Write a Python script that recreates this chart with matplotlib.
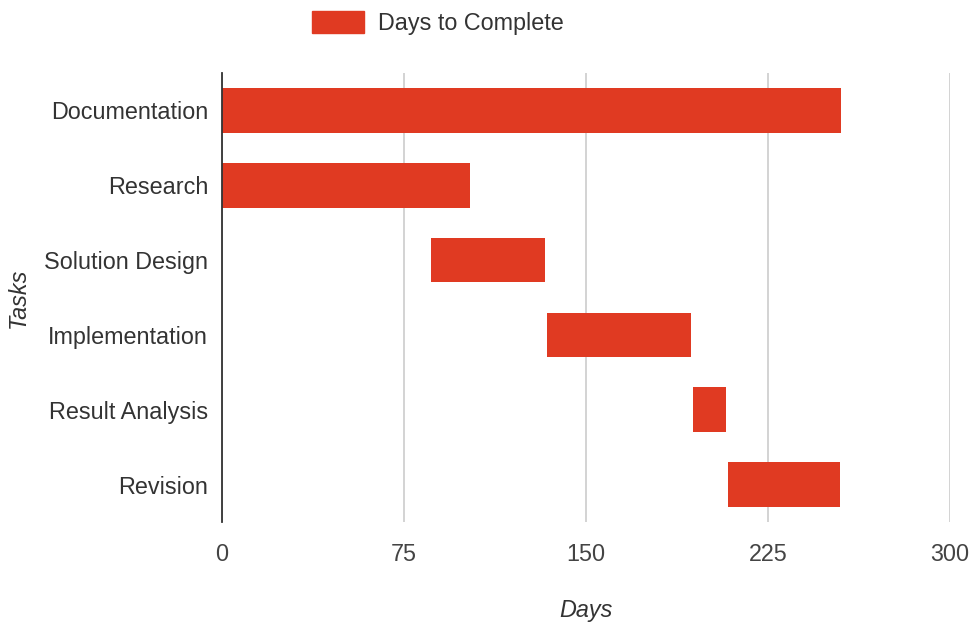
import matplotlib
matplotlib.use("Agg")
import matplotlib.pyplot as plt
from matplotlib.patches import Patch

tasks = ["Documentation", "Research", "Solution Design", "Implementation", "Result Analysis", "Revision"]
start_days = [0, 0, 86.2, 134.0, 194.0, 208.7]
end_days = [255, 102.4, 133.3, 193.2, 207.8, 254.8]
x_ticks = [0, 75, 150, 225, 300]
series_name = "Days to Complete"

plt.rcParams['font.family'] = ['Liberation Sans', 'DejaVu Sans']
bar_color = "#E03A22"
text_color = "#333333"
fs = 16.8

fig = plt.figure(figsize=(9.71, 6.26), dpi=100)
ax = fig.add_axes([222/971, 1-522/626, (950-222)/971, (522-73)/626])

y = list(range(len(tasks)))
widths = [e - s for s, e in zip(start_days, end_days)]
ax.barh(y, widths, left=start_days, height=0.595, color=bar_color, zorder=3)

ax.set_ylim(len(tasks) - 0.5, -0.5)
ax.set_xlim(0, 300)
ax.set_yticks(y)
ax.set_yticklabels(tasks, fontsize=fs, color=text_color)
ax.set_xticks(x_ticks)
ax.set_xticklabels([str(t) for t in x_ticks], fontsize=fs, color="#444444")
ax.tick_params(axis='both', length=0)
ax.tick_params(axis='y', pad=10)
ax.tick_params(axis='x', pad=15)

ax.grid(axis='x', color="#cccccc", linewidth=1.2, zorder=0)
for s in ["top", "right", "bottom"]:
    ax.spines[s].set_visible(False)
ax.spines["left"].set_color("#333333")
ax.spines["left"].set_linewidth(1.3)
ax.spines["left"].set_zorder(4)

ax.set_xlabel("Days", fontsize=fs, style='italic', color=text_color)
ax.set_ylabel("Tasks", fontsize=fs, style='italic', color=text_color)
ax.yaxis.set_label_coords((18 - 222) / 728, 0.5)
ax.xaxis.set_label_coords(0.5, -(610 - 522) / 449)
ax.xaxis.label.set_va('center')
ax.yaxis.label.set_va('center')

handles = [Patch(facecolor=bar_color, edgecolor=bar_color)]
fig.legend(handles, [series_name], loc='center', bbox_to_anchor=(438/971, 1-23/626),
           frameon=False, fontsize=fs, handlelength=2.2, handleheight=1.1,
           handletextpad=0.6, labelcolor=text_color)

fig.savefig("out.png", dpi=100)
